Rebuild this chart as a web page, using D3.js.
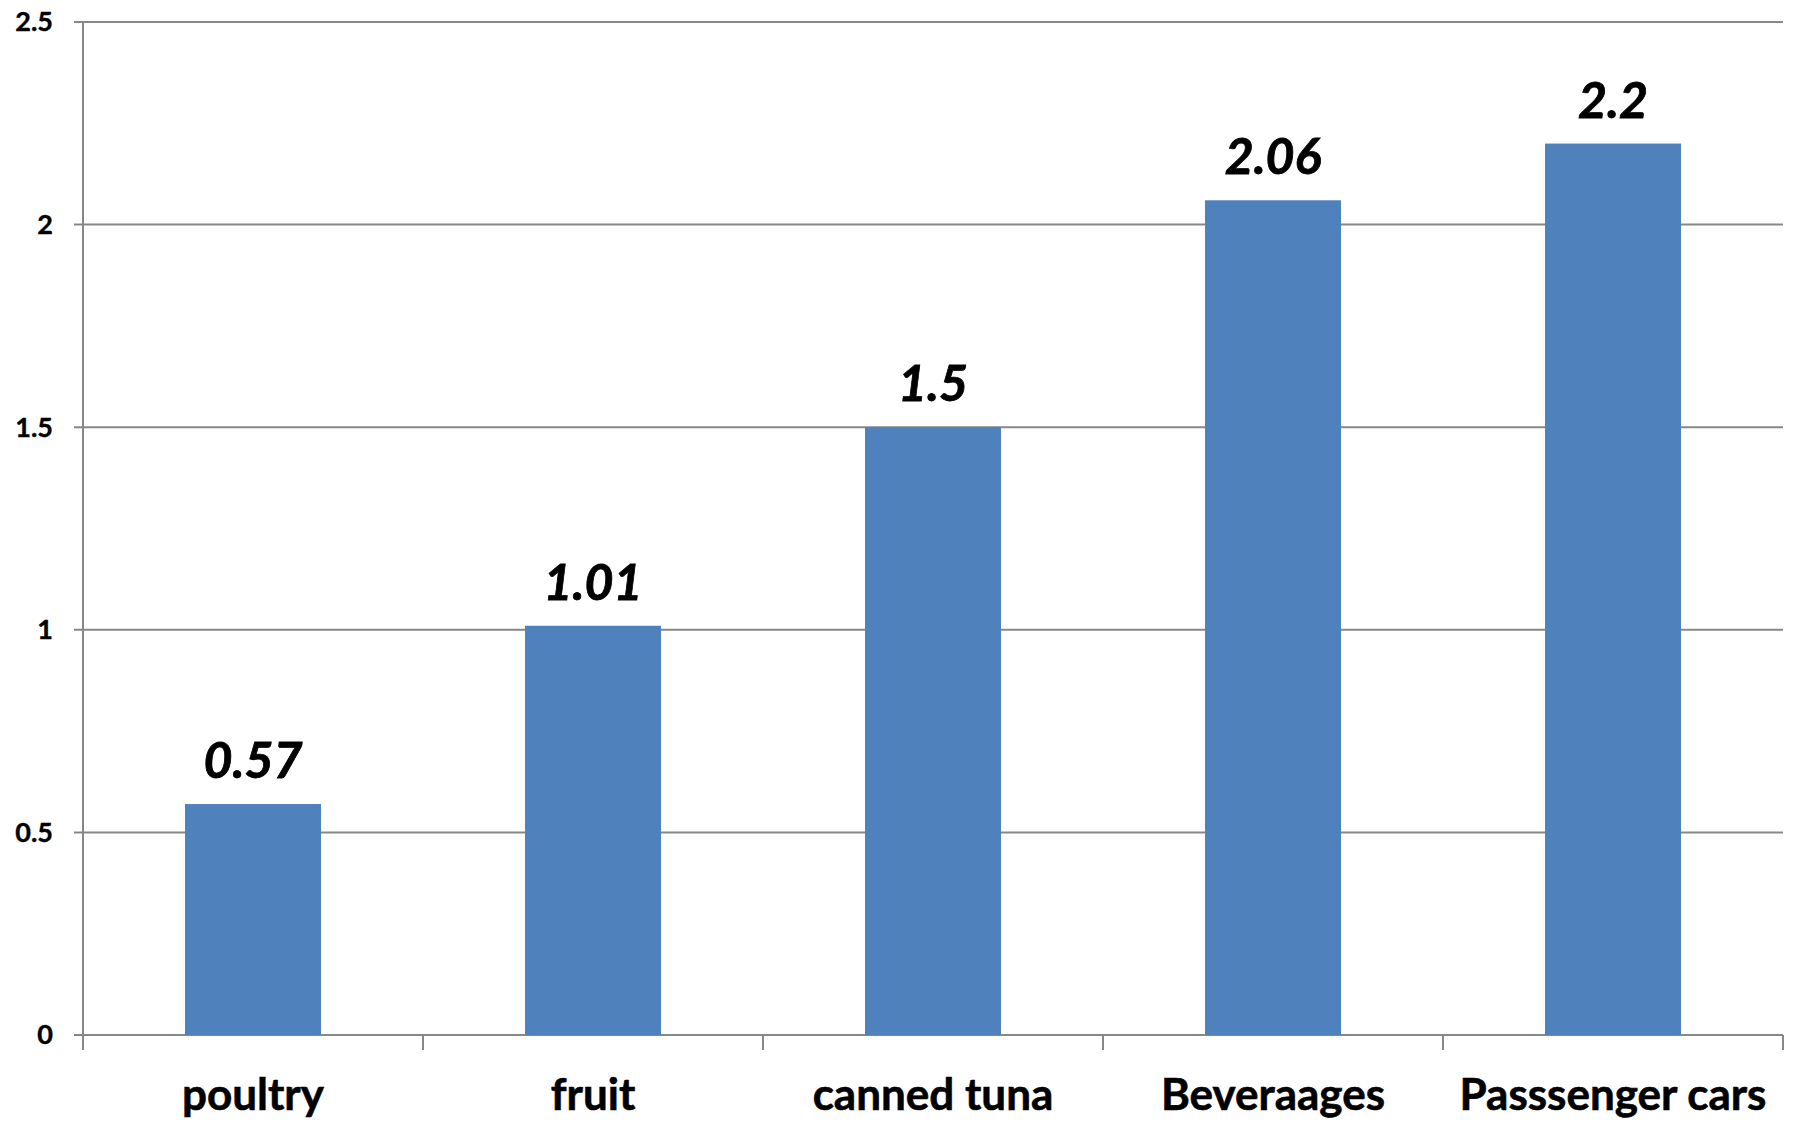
<!DOCTYPE html>
<html>
<head>
<meta charset="utf-8">
<script src="https://cdn.jsdelivr.net/npm/d3@7"></script>
<style>
  body { margin: 0; background: #fff; }
  text { font-family: Lato, "Open Sans", sans-serif; font-weight: bold; fill: #000; }
</style>
</head>
<body>
<div id="chart"></div>
<script>
// chart data
const categories = ["poultry", "fruit", "canned tuna", "Beveraages", "Passsenger cars"];
const values = [0.57, 1.01, 1.5, 2.06, 2.2];
const yTicks = [0, 0.5, 1, 1.5, 2, 2.5];

const width = 1793;
const height = 1124;
const margin = {top: 22, right: 10, bottom: 89, left: 83};

const svg = d3.select("#chart").append("svg")
    .attr("width", width)
    .attr("height", height);

const x = d3.scaleBand()
    .domain(categories)
    .range([margin.left, width - margin.right])
    .paddingInner(0.6)
    .paddingOuter(0.3);

const y = d3.scaleLinear()
    .domain([0, 2.5])
    .range([height - margin.bottom, margin.top]);

// gridlines
svg.append("g")
    .selectAll("line")
    .data(yTicks)
    .enter().append("line")
    .attr("x1", margin.left - 9)
    .attr("x2", width - margin.right)
    .attr("y1", d => y(d))
    .attr("y2", d => y(d))
    .attr("stroke", "#878787")
    .attr("stroke-width", 2);

// y axis line
svg.append("line")
    .attr("x1", margin.left).attr("x2", margin.left)
    .attr("y1", margin.top).attr("y2", y(0) + 15)
    .attr("stroke", "#878787")
    .attr("stroke-width", 2);

// category tick marks on the x axis
const step = x.step();
const bounds = d3.range(categories.length + 1).map(i => margin.left + i * step);
svg.append("g")
    .selectAll("line")
    .data(bounds)
    .enter().append("line")
    .attr("x1", d => d).attr("x2", d => d)
    .attr("y1", y(0)).attr("y2", y(0) + 15)
    .attr("stroke", "#878787")
    .attr("stroke-width", 2);

// y labels
svg.append("g")
    .selectAll("text")
    .data(yTicks)
    .enter().append("text")
    .attr("x", margin.left - 30)
    .attr("y", d => y(d))
    .attr("dy", "0.35em")
    .attr("text-anchor", "end")
    .style("font-size", "27px")
    .style("stroke", "#000")
    .style("stroke-width", 0.4)
    .text(d => d);

// bars
svg.append("g")
    .selectAll("rect")
    .data(values)
    .enter().append("rect")
    .attr("x", (d, i) => x(categories[i]))
    .attr("width", x.bandwidth())
    .attr("y", d => y(d))
    .attr("height", d => y(0) - y(d))
    .attr("fill", "#4F81BD");

// value labels
svg.append("g")
    .selectAll("text")
    .data(values)
    .enter().append("text")
    .attr("x", (d, i) => x(categories[i]) + x.bandwidth() / 2)
    .attr("y", d => y(d) - 26)
    .attr("text-anchor", "middle")
    .style("font-size", "50px")
    .style("font-style", "italic")
    .style("stroke", "#000")
    .style("stroke-width", 0.8)
    .text(d => d);

// category labels
svg.append("g")
    .selectAll("text")
    .data(categories)
    .enter().append("text")
    .attr("x", d => x(d) + x.bandwidth() / 2)
    .attr("y", 1110)
    .attr("text-anchor", "middle")
    .style("font-size", "44px")
    .style("stroke", "#000")
    .style("stroke-width", 0.6)
    .text(d => d);
</script>
</body>
</html>
